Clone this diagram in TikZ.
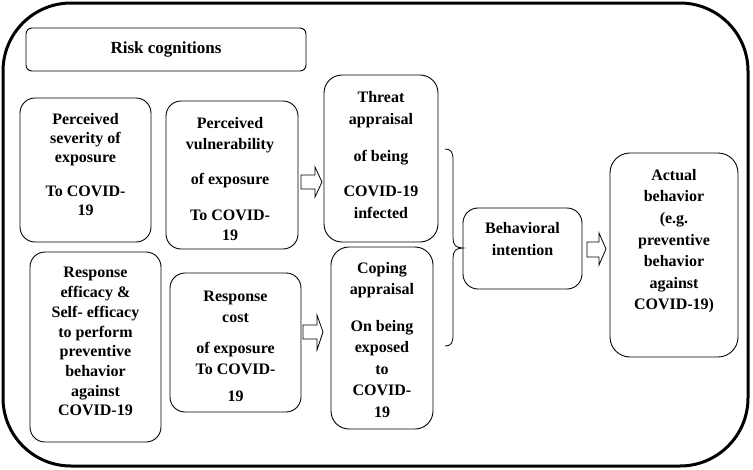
\documentclass[tikz,border=0pt]{standalone}
\usepackage{fontspec}
\setmainfont{Liberation Serif}
\begin{document}
\begin{tikzpicture}[x=1pt,y=-1pt,
  rbox/.style={draw, line width=0.9pt, rounded corners=15pt, inner sep=0pt},
  txt/.style={anchor=north, inner sep=0pt, align=center, font=\bfseries},
  barrow/.style={draw, line width=0.8pt, fill=white}]
\useasboundingbox (0,0) rectangle (753,469);
\draw[line width=3pt, rounded corners=68pt] (3,3) rectangle (748,466);

% boxes
\node[rbox, rounded corners=6pt, minimum width=280pt, minimum height=43pt,
      font=\bfseries\fontsize{17}{20}\selectfont] (risk) at (166,49.5) {Risk cognitions};
\node[rbox, minimum width=131pt, minimum height=144pt] (sev) at (85.5,170) {};
\node[rbox, minimum width=132pt, minimum height=148pt] (vul) at (232,175) {};
\node[rbox, rounded corners=18pt, minimum width=114pt, minimum height=167pt] (thr) at (381,158.5) {};
\node[rbox, rounded corners=18pt, minimum width=102pt, minimum height=182pt] (cop) at (382,338) {};
\node[rbox, minimum width=131pt, minimum height=190pt] (eff) at (95.5,347) {};
\node[rbox, minimum width=131pt, minimum height=139pt] (cost) at (235.5,342.5) {};
\node[rbox, minimum width=119pt, minimum height=81pt] (bi) at (522.5,248.5) {};
\node[rbox, rounded corners=20pt, minimum width=128pt, minimum height=204pt] (act) at (674,255) {};

% texts
\node[txt, font=\bfseries\fontsize{16}{19}\selectfont] (sevt) at (85.5,111)
  {\strut Perceived\\ severity of\\ exposure\\[15pt] To COVID-\\ 19};
\node[txt, font=\bfseries\fontsize{16}{20.5}\selectfont] (vult) at (230,114)
  {\strut Perceived\\ vulnerability\\[15pt] of exposure\\[15pt] To COVID-\\ 19};
\node[txt, font=\bfseries\fontsize{16}{22}\selectfont] (thrt) at (381,87)
  {\strut Threat\\ appraisal\\[15pt] of being\\[13pt] COVID-19\\ infected};
\node[txt, font=\bfseries\fontsize{16}{21.5}\selectfont] (copt) at (382,258)
  {\strut Coping\\ appraisal\\[15pt] On being\\ exposed\\ to\\ COVID-\\ 19};
\node[txt, font=\bfseries\fontsize{16}{19.7}\selectfont] (efft) at (95.5,264)
  {\strut Response\\ efficacy \&\\ Self- efficacy\\ to perform\\ preventive\\ behavior\\ against\\ COVID-19};
\node[txt, font=\bfseries\fontsize{16}{21}\selectfont] (costt) at (235.5,287)
  {\strut Response\\ cost\\[10pt] of exposure\\ To COVID-\\[6pt] 19};
\node[txt, font=\bfseries\fontsize{16}{22}\selectfont] (bit) at (522.5,218)
  {\strut Behavioral\\ intention};
\node[txt, font=\bfseries\fontsize{16}{21.6}\selectfont] (actt) at (674,165)
  {\strut Actual\\ behavior\\ (e.g.\\ preventive\\ behavior\\ against\\ COVID-19)};

% block arrows
\draw[barrow] (301,175) -- (315,175) -- (315,167) -- (322,182) -- (315,197) -- (315,189) -- (301,189) -- cycle;
\draw[barrow] (303,325) -- (317,325) -- (317,315) -- (323,332) -- (317,350) -- (317,339) -- (303,339) -- cycle;
\draw[barrow] (587,242) -- (599,242) -- (599,233) -- (606,249) -- (599,265) -- (599,257) -- (587,257) -- cycle;

% brace
\draw[line width=0.8pt] (445,149) .. controls (451,149) and (453,152) .. (453,160)
  -- (453,238) .. controls (453,245) and (456,248) .. (463,248)
  .. controls (456,248) and (453,251) .. (453,258)
  -- (453,335) .. controls (453,343) and (451,346) .. (445,346);
\end{tikzpicture}
\end{document}
